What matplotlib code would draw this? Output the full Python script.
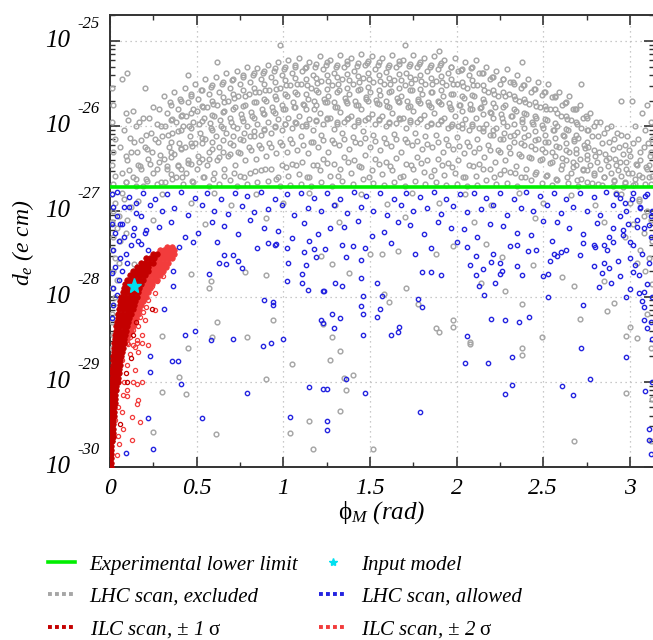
import numpy as np
import matplotlib.pyplot as plt
from matplotlib.lines import Line2D
from matplotlib import transforms

plt.rcParams['font.family'] = ['Liberation Serif', 'DejaVu Serif']
plt.rcParams['mathtext.fontset'] = 'custom'
plt.rcParams['mathtext.rm'] = 'Liberation Serif'
plt.rcParams['mathtext.it'] = 'Liberation Serif:italic'

# points are (phi_M in rad, log10 of d_e in e cm)
lhc_excluded = [
    # above the experimental limit, column by column
    (0.01, -25.55), (0.02, -25.75), (0.01, -25.95), (0.03, -26.15), (0.02, -26.3), (0.01, -26.45), (0.03, -26.58), (0.02, -26.68),
    (0.07, -25.45), (0.09, -25.85), (0.08, -26.05), (0.06, -26.25), (0.10, -26.4), (0.07, -26.55), (0.09, -26.66),
    (0.13, -25.82), (0.15, -26.0), (0.14, -26.18), (0.12, -26.3), (0.16, -26.45), (0.13, -26.6), (0.15, -26.7),
    (0.19, -25.9), (0.21, -26.1), (0.20, -26.25), (0.22, -26.38), (0.18, -26.5), (0.21, -26.62), (0.19, -26.7),
    (0.25, -25.78), (0.27, -25.98), (0.26, -26.15), (0.24, -26.3), (0.28, -26.42), (0.25, -26.55), (0.27, -26.68),
    (0.31, -25.65), (0.33, -25.85), (0.32, -26.0), (0.30, -26.12), (0.34, -26.25), (0.31, -26.38), (0.33, -26.5), (0.32, -26.65),
    (0.37, -25.6), (0.39, -25.8), (0.38, -25.95), (0.36, -26.08), (0.40, -26.2), (0.37, -26.33), (0.39, -26.47), (0.38, -26.6),
    (0.43, -25.55), (0.45, -25.72), (0.44, -25.88), (0.42, -26.0), (0.46, -26.12), (0.43, -26.25), (0.45, -26.4), (0.44, -26.55), (0.42, -26.68),
    (0.49, -25.5), (0.51, -25.68), (0.50, -25.82), (0.48, -25.95), (0.52, -26.08), (0.49, -26.2), (0.51, -26.35), (0.50, -26.5), (0.48, -26.65),
    (0.55, -25.45), (0.57, -25.62), (0.56, -25.78), (0.54, -25.9), (0.58, -26.02), (0.55, -26.15), (0.57, -26.3), (0.56, -26.45), (0.54, -26.6), (0.57, -26.7),
    (0.61, -25.42), (0.63, -25.6), (0.62, -25.75), (0.60, -25.88), (0.64, -26.0), (0.61, -26.12), (0.63, -26.25), (0.62, -26.4), (0.60, -26.55), (0.63, -26.68),
    (0.67, -25.38), (0.69, -25.55), (0.68, -25.7), (0.66, -25.82), (0.70, -25.95), (0.67, -26.08), (0.69, -26.2), (0.68, -26.35), (0.66, -26.5), (0.69, -26.63),
    (0.73, -25.35), (0.75, -25.5), (0.74, -25.65), (0.72, -25.78), (0.76, -25.9), (0.73, -26.02), (0.75, -26.15), (0.74, -26.3), (0.72, -26.45), (0.75, -26.58), (0.73, -26.7),
    (0.79, -25.3), (0.81, -25.48), (0.80, -25.62), (0.78, -25.75), (0.82, -25.88), (0.79, -26.0), (0.81, -26.12), (0.80, -26.25), (0.78, -26.4), (0.81, -26.55), (0.79, -26.68),
    (0.85, -25.32), (0.87, -25.45), (0.86, -25.6), (0.84, -25.72), (0.88, -25.85), (0.85, -25.98), (0.87, -26.1), (0.86, -26.22), (0.84, -26.38), (0.87, -26.52), (0.85, -26.66),
    (0.91, -25.28), (0.93, -25.42), (0.92, -25.58), (0.90, -25.7), (0.94, -25.82), (0.91, -25.95), (0.93, -26.08), (0.92, -26.2), (0.90, -26.35), (0.93, -26.5), (0.91, -26.64),
    (0.97, -25.25), (0.99, -25.4), (0.98, -25.55), (0.96, -25.68), (1.00, -25.8), (0.97, -25.92), (0.99, -26.05), (0.98, -26.18), (0.96, -26.32), (0.99, -26.46), (0.97, -26.6), (0.98, -26.7),
    (1.03, -25.22), (1.05, -25.38), (1.04, -25.52), (1.02, -25.65), (1.06, -25.78), (1.03, -25.9), (1.05, -26.02), (1.04, -26.15), (1.02, -26.3), (1.05, -26.44), (1.03, -26.58), (1.04, -26.69),
    (1.09, -25.2), (1.11, -25.35), (1.10, -25.5), (1.08, -25.62), (1.12, -25.75), (1.09, -25.88), (1.11, -26.0), (1.10, -26.12), (1.08, -26.28), (1.11, -26.42), (1.09, -26.56), (1.10, -26.68),
    (1.15, -25.25), (1.17, -25.4), (1.16, -25.55), (1.14, -25.68), (1.18, -25.8), (1.15, -25.92), (1.17, -26.05), (1.16, -26.18), (1.14, -26.32), (1.17, -26.46), (1.15, -26.6), (1.16, -26.7),
    (1.21, -25.18), (1.23, -25.33), (1.22, -25.47), (1.20, -25.6), (1.24, -25.72), (1.21, -25.85), (1.23, -25.97), (1.22, -26.1), (1.20, -26.25), (1.23, -26.38), (1.21, -26.52), (1.22, -26.66),
    (1.27, -25.22), (1.29, -25.37), (1.28, -25.52), (1.26, -25.64), (1.30, -25.77), (1.27, -25.9), (1.29, -26.03), (1.28, -26.16), (1.26, -26.3), (1.29, -26.44), (1.27, -26.58), (1.28, -26.7),
    (1.33, -25.16), (1.35, -25.3), (1.34, -25.45), (1.32, -25.58), (1.36, -25.7), (1.33, -25.83), (1.35, -25.95), (1.34, -26.08), (1.32, -26.22), (1.35, -26.36), (1.33, -26.5), (1.34, -26.64),
    (1.39, -25.2), (1.41, -25.35), (1.40, -25.5), (1.38, -25.62), (1.42, -25.75), (1.39, -25.88), (1.41, -26.0), (1.40, -26.13), (1.38, -26.27), (1.41, -26.4), (1.39, -26.55), (1.40, -26.68),
    (1.45, -25.15), (1.47, -25.28), (1.46, -25.43), (1.44, -25.56), (1.48, -25.68), (1.45, -25.8), (1.47, -25.93), (1.46, -26.06), (1.44, -26.2), (1.47, -26.34), (1.45, -26.48), (1.46, -26.62),
    (1.51, -25.18), (1.53, -25.33), (1.52, -25.48), (1.50, -25.6), (1.54, -25.73), (1.51, -25.86), (1.53, -25.98), (1.52, -26.1), (1.50, -26.25), (1.53, -26.38), (1.51, -26.52), (1.52, -26.67),
    (1.57, -25.2), (1.59, -25.36), (1.58, -25.5), (1.56, -25.63), (1.60, -25.76), (1.57, -25.88), (1.59, -26.0), (1.58, -26.14), (1.56, -26.28), (1.59, -26.42), (1.57, -26.56), (1.58, -26.69),
    (1.63, -25.17), (1.65, -25.31), (1.64, -25.46), (1.62, -25.59), (1.66, -25.71), (1.63, -25.84), (1.65, -25.96), (1.64, -26.09), (1.62, -26.23), (1.65, -26.37), (1.63, -26.51), (1.64, -26.65),
    (1.69, -25.22), (1.71, -25.38), (1.70, -25.52), (1.68, -25.65), (1.72, -25.78), (1.69, -25.9), (1.71, -26.02), (1.70, -26.15), (1.68, -26.3), (1.71, -26.44), (1.69, -26.58), (1.70, -26.7),
    (1.75, -25.16), (1.77, -25.3), (1.76, -25.45), (1.74, -25.58), (1.78, -25.7), (1.75, -25.82), (1.77, -25.95), (1.76, -26.08), (1.74, -26.22), (1.77, -26.36), (1.75, -26.5), (1.76, -26.64),
    (1.81, -25.2), (1.83, -25.35), (1.82, -25.5), (1.80, -25.62), (1.84, -25.75), (1.81, -25.87), (1.83, -26.0), (1.82, -26.12), (1.80, -26.27), (1.83, -26.4), (1.81, -26.54), (1.82, -26.68),
    (1.87, -25.18), (1.89, -25.33), (1.88, -25.47), (1.86, -25.6), (1.90, -25.72), (1.87, -25.85), (1.89, -25.97), (1.88, -26.1), (1.86, -26.24), (1.89, -26.38), (1.87, -26.52), (1.88, -26.66),
    (1.93, -25.22), (1.95, -25.37), (1.94, -25.52), (1.92, -25.64), (1.96, -25.77), (1.93, -25.9), (1.95, -26.02), (1.94, -26.15), (1.92, -26.3), (1.95, -26.43), (1.93, -26.57), (1.94, -26.69),
    (1.99, -25.2), (2.01, -25.35), (2.00, -25.5), (1.98, -25.62), (2.02, -25.75), (1.99, -25.88), (2.01, -26.0), (2.00, -26.13), (1.98, -26.27), (2.01, -26.4), (1.99, -26.55), (2.00, -26.68),
    (2.05, -25.25), (2.07, -25.4), (2.06, -25.55), (2.04, -25.67), (2.08, -25.8), (2.05, -25.92), (2.07, -26.05), (2.06, -26.18), (2.04, -26.32), (2.07, -26.46), (2.05, -26.6), (2.06, -26.7),
    (2.11, -25.22), (2.13, -25.38), (2.12, -25.52), (2.10, -25.65), (2.14, -25.78), (2.11, -25.9), (2.13, -26.02), (2.12, -26.15), (2.10, -26.3), (2.13, -26.44), (2.11, -26.58), (2.12, -26.69),
    (2.17, -25.3), (2.19, -25.45), (2.18, -25.6), (2.16, -25.72), (2.20, -25.85), (2.17, -25.97), (2.19, -26.1), (2.18, -26.22), (2.16, -26.36), (2.19, -26.5), (2.17, -26.63),
    (2.23, -25.35), (2.25, -25.5), (2.24, -25.65), (2.22, -25.78), (2.26, -25.9), (2.23, -26.02), (2.25, -26.15), (2.24, -26.28), (2.22, -26.42), (2.25, -26.56), (2.23, -26.68),
    (2.29, -25.33), (2.31, -25.48), (2.30, -25.62), (2.28, -25.75), (2.32, -25.88), (2.29, -26.0), (2.31, -26.12), (2.30, -26.25), (2.28, -26.4), (2.31, -26.54), (2.29, -26.67),
    (2.35, -25.4), (2.37, -25.55), (2.36, -25.7), (2.34, -25.82), (2.38, -25.95), (2.35, -26.07), (2.37, -26.2), (2.36, -26.33), (2.34, -26.47), (2.37, -26.6), (2.35, -26.7),
    (2.41, -25.45), (2.43, -25.6), (2.42, -25.74), (2.40, -25.86), (2.44, -25.98), (2.41, -26.1), (2.43, -26.23), (2.42, -26.36), (2.40, -26.5), (2.43, -26.63),
    (2.47, -25.48), (2.49, -25.63), (2.48, -25.78), (2.46, -25.9), (2.50, -26.02), (2.47, -26.15), (2.49, -26.27), (2.48, -26.4), (2.46, -26.54), (2.49, -26.67),
    (2.53, -25.5), (2.55, -25.66), (2.54, -25.8), (2.52, -25.93), (2.56, -26.05), (2.53, -26.18), (2.55, -26.3), (2.54, -26.43), (2.52, -26.57), (2.55, -26.69),
    (2.59, -25.6), (2.61, -25.75), (2.60, -25.88), (2.58, -26.0), (2.62, -26.12), (2.59, -26.25), (2.61, -26.37), (2.60, -26.5), (2.58, -26.63),
    (2.65, -25.65), (2.67, -25.8), (2.66, -25.93), (2.64, -26.05), (2.68, -26.17), (2.65, -26.3), (2.67, -26.42), (2.66, -26.55), (2.64, -26.67),
    (2.71, -25.75), (2.73, -25.9), (2.72, -26.02), (2.70, -26.14), (2.74, -26.26), (2.71, -26.38), (2.73, -26.5), (2.72, -26.62), (2.70, -26.7),
    (2.77, -25.85), (2.79, -26.0), (2.78, -26.12), (2.76, -26.24), (2.80, -26.35), (2.77, -26.46), (2.79, -26.57), (2.78, -26.67),
    (2.83, -25.95), (2.85, -26.08), (2.84, -26.2), (2.82, -26.3), (2.86, -26.4), (2.83, -26.5), (2.85, -26.6), (2.84, -26.69),
    (2.89, -26.0), (2.91, -26.15), (2.90, -26.27), (2.88, -26.37), (2.92, -26.46), (2.89, -26.55), (2.91, -26.63), (2.90, -26.7),
    (2.95, -26.1), (2.97, -26.22), (2.96, -26.33), (2.94, -26.42), (2.98, -26.5), (2.95, -26.58), (2.97, -26.65), (2.96, -26.71),
    (3.01, -25.7), (3.03, -26.0), (3.02, -26.2), (3.00, -26.35), (3.04, -26.45), (3.01, -26.55), (3.03, -26.62), (3.02, -26.69),
    (3.07, -25.85), (3.09, -26.05), (3.08, -26.25), (3.06, -26.4), (3.10, -26.5), (3.07, -26.6), (3.09, -26.68),
    (3.12, -25.95), (3.13, -26.15), (3.12, -26.3), (3.11, -26.45), (3.13, -26.58), (3.12, -26.68),
    # denser core of the cloud
    (0.35, -25.75), (0.35, -25.93), (0.35, -26.18), (0.35, -26.36), (0.35, -26.56),
    (0.41, -25.7), (0.41, -25.88), (0.41, -26.05), (0.41, -26.27), (0.41, -26.5),
    (0.47, -25.65), (0.47, -25.84), (0.47, -26.02), (0.47, -26.2), (0.47, -26.44),
    (0.53, -25.58), (0.53, -25.76), (0.53, -25.94), (0.53, -26.14), (0.53, -26.38),
    (0.59, -25.52), (0.59, -25.7), (0.59, -25.87), (0.59, -26.05), (0.59, -26.27),
    (0.65, -25.48), (0.65, -25.66), (0.65, -25.83), (0.65, -26.02), (0.65, -26.3),
    (0.71, -25.45), (0.71, -25.62), (0.71, -25.8), (0.71, -26.0), (0.71, -26.22),
    (0.77, -25.4), (0.77, -25.58), (0.77, -25.76), (0.77, -25.94), (0.77, -26.16),
    (0.83, -25.38), (0.83, -25.55), (0.83, -25.72), (0.83, -25.9), (0.83, -26.12),
    (0.89, -25.35), (0.89, -25.5), (0.89, -25.68), (0.89, -25.86), (0.89, -26.05),
    (0.95, -25.32), (0.95, -25.48), (0.95, -25.65), (0.95, -25.84), (0.95, -26.0),
    (1.01, -25.3), (1.01, -25.46), (1.01, -25.62), (1.01, -25.8), (1.01, -25.98),
    (1.07, -25.28), (1.07, -25.44), (1.07, -25.6), (1.07, -25.77), (1.07, -25.95),
    (1.13, -25.3), (1.13, -25.45), (1.13, -25.62), (1.13, -25.8), (1.13, -26.0),
    (1.19, -25.27), (1.19, -25.43), (1.19, -25.58), (1.19, -25.75), (1.19, -25.93),
    (1.25, -25.25), (1.25, -25.4), (1.25, -25.56), (1.25, -25.72), (1.25, -25.9),
    (1.31, -25.28), (1.31, -25.42), (1.31, -25.6), (1.31, -25.78), (1.31, -25.97),
    (1.37, -25.24), (1.37, -25.39), (1.37, -25.55), (1.37, -25.73), (1.37, -25.92),
    (1.43, -25.26), (1.43, -25.41), (1.43, -25.57), (1.43, -25.75), (1.43, -25.95),
    (1.49, -25.23), (1.49, -25.38), (1.49, -25.54), (1.49, -25.71), (1.49, -25.9),
    (1.55, -25.25), (1.55, -25.4), (1.55, -25.57), (1.55, -25.74), (1.55, -25.93),
    (1.61, -25.28), (1.61, -25.43), (1.61, -25.6), (1.61, -25.77), (1.61, -25.96),
    (1.67, -25.24), (1.67, -25.39), (1.67, -25.55), (1.67, -25.72), (1.67, -25.9),
    (1.73, -25.27), (1.73, -25.42), (1.73, -25.58), (1.73, -25.76), (1.73, -25.95),
    (1.79, -25.25), (1.79, -25.4), (1.79, -25.56), (1.79, -25.73), (1.79, -25.92),
    (1.85, -25.28), (1.85, -25.44), (1.85, -25.6), (1.85, -25.78), (1.85, -25.98),
    (1.91, -25.26), (1.91, -25.41), (1.91, -25.57), (1.91, -25.74), (1.91, -25.93),
    (1.97, -25.3), (1.97, -25.45), (1.97, -25.62), (1.97, -25.8), (1.97, -26.0),
    (2.03, -25.33), (2.03, -25.48), (2.03, -25.65), (2.03, -25.82), (2.03, -26.02),
    (2.09, -25.3), (2.09, -25.46), (2.09, -25.63), (2.09, -25.8), (2.09, -26.0),
    (2.15, -25.37), (2.15, -25.52), (2.15, -25.68), (2.15, -25.86), (2.15, -26.06),
    (2.21, -25.42), (2.21, -25.57), (2.21, -25.73), (2.21, -25.9), (2.21, -26.1),
    (2.27, -25.45), (2.27, -25.6), (2.27, -25.77), (2.27, -25.95), (2.27, -26.15),
    (2.33, -25.5), (2.33, -25.65), (2.33, -25.8), (2.33, -25.98), (2.33, -26.18),
    (2.39, -25.52), (2.39, -25.68), (2.39, -25.84), (2.39, -26.02), (2.39, -26.22),
    (2.45, -25.56), (2.45, -25.72), (2.45, -25.88), (2.45, -26.06), (2.45, -26.27),
    (2.51, -25.6), (2.51, -25.76), (2.51, -25.92), (2.51, -26.1), (2.51, -26.3),
    (2.57, -25.65), (2.57, -25.8), (2.57, -25.96), (2.57, -26.14), (2.57, -26.35),
    (2.63, -25.72), (2.63, -25.88), (2.63, -26.03), (2.63, -26.2), (2.63, -26.4),
    (2.69, -25.8), (2.69, -25.95), (2.69, -26.1), (2.69, -26.27), (2.69, -26.45),
    (2.75, -25.9), (2.75, -26.04), (2.75, -26.18), (2.75, -26.34), (2.75, -26.52),
    # third pass through the cloud
    (0.105, -25.93), (0.117, -26.14), (0.095, -26.35), (0.111, -26.52), (0.091, -26.66),
    (0.165, -25.95), (0.177, -26.16), (0.155, -26.3), (0.171, -26.47), (0.151, -26.62),
    (0.225, -25.9), (0.237, -26.08), (0.215, -26.27), (0.231, -26.44), (0.211, -26.64),
    (0.285, -25.8), (0.297, -26.0), (0.275, -26.18), (0.291, -26.34), (0.271, -26.5), (0.295, -26.66),
    (0.345, -25.72), (0.357, -25.92), (0.335, -26.1), (0.351, -26.3), (0.331, -26.47), (0.355, -26.62),
    (0.405, -25.68), (0.417, -25.87), (0.395, -26.06), (0.411, -26.26), (0.391, -26.45), (0.415, -26.6),
    (0.465, -25.62), (0.477, -25.8), (0.455, -26.0), (0.471, -26.23), (0.451, -26.43), (0.475, -26.64),
    (0.525, -25.58), (0.537, -25.77), (0.515, -25.97), (0.531, -26.2), (0.511, -26.42), (0.535, -26.6),
    (0.585, -25.54), (0.597, -25.74), (0.575, -25.96), (0.591, -26.18), (0.571, -26.38), (0.595, -26.62),
    (0.645, -25.5), (0.657, -25.72), (0.635, -25.93), (0.651, -26.16), (0.631, -26.36), (0.655, -26.58),
    (0.705, -25.46), (0.717, -25.67), (0.695, -25.9), (0.711, -26.12), (0.691, -26.33), (0.715, -26.55),
    (0.765, -25.42), (0.777, -25.64), (0.755, -25.86), (0.771, -26.08), (0.751, -26.32), (0.775, -26.6),
    (0.825, -25.4), (0.837, -25.6), (0.815, -25.83), (0.831, -26.06), (0.811, -26.28), (0.835, -26.53),
    (0.885, -25.37), (0.897, -25.58), (0.875, -25.8), (0.891, -26.03), (0.871, -26.26), (0.895, -26.5),
    (0.945, -25.35), (0.957, -25.56), (0.935, -25.78), (0.951, -26.01), (0.931, -26.25), (0.955, -26.62),
    (1.005, -25.33), (1.017, -25.52), (0.995, -25.75), (1.011, -25.98), (0.991, -26.22), (1.015, -26.48),
    (1.065, -25.3), (1.077, -25.5), (1.055, -25.72), (1.071, -25.96), (1.051, -26.2), (1.075, -26.45),
    (1.125, -25.32), (1.137, -25.52), (1.115, -25.74), (1.131, -25.97), (1.111, -26.22), (1.135, -26.6),
    (1.185, -25.3), (1.197, -25.49), (1.175, -25.7), (1.191, -25.94), (1.171, -26.18), (1.195, -26.45),
    (1.245, -25.28), (1.257, -25.47), (1.235, -25.68), (1.251, -25.92), (1.231, -26.16), (1.255, -26.43),
    (1.305, -25.3), (1.317, -25.5), (1.295, -25.72), (1.311, -25.95), (1.291, -26.2), (1.315, -26.58),
    (1.365, -25.27), (1.377, -25.46), (1.355, -25.67), (1.371, -25.9), (1.351, -26.15), (1.375, -26.42),
    (1.425, -25.29), (1.437, -25.48), (1.415, -25.7), (1.431, -25.93), (1.411, -26.18), (1.435, -26.47),
    (1.485, -25.26), (1.497, -25.45), (1.475, -25.66), (1.491, -25.9), (1.471, -26.14), (1.495, -26.6),
    (1.545, -25.28), (1.557, -25.47), (1.535, -25.69), (1.551, -25.92), (1.531, -26.17), (1.555, -26.44),
    (1.605, -25.3), (1.617, -25.5), (1.595, -25.71), (1.611, -25.95), (1.591, -26.2), (1.615, -26.47),
    (1.665, -25.27), (1.677, -25.46), (1.655, -25.67), (1.671, -25.91), (1.651, -26.15), (1.675, -26.6),
    (1.725, -25.29), (1.737, -25.49), (1.715, -25.7), (1.731, -25.93), (1.711, -26.18), (1.735, -26.45),
    (1.785, -25.27), (1.797, -25.47), (1.775, -25.68), (1.791, -25.92), (1.771, -26.17), (1.795, -26.43),
    (1.845, -25.3), (1.857, -25.5), (1.835, -25.72), (1.851, -25.96), (1.831, -26.21), (1.855, -26.59),
    (1.905, -25.28), (1.917, -25.48), (1.895, -25.7), (1.911, -25.94), (1.891, -26.19), (1.915, -26.46),
    (1.965, -25.31), (1.977, -25.51), (1.955, -25.73), (1.971, -25.97), (1.951, -26.22), (1.975, -26.48),
    (2.025, -25.34), (2.037, -25.53), (2.015, -25.75), (2.031, -25.98), (2.011, -26.23), (2.035, -26.6),
    (2.085, -25.32), (2.097, -25.52), (2.075, -25.74), (2.091, -25.98), (2.071, -26.23), (2.095, -26.47),
    (2.145, -25.38), (2.157, -25.58), (2.135, -25.79), (2.151, -26.02), (2.131, -26.26), (2.155, -26.5),
    (2.205, -25.42), (2.217, -25.62), (2.195, -25.83), (2.211, -26.05), (2.191, -26.28), (2.215, -26.6),
    (2.265, -25.45), (2.277, -25.65), (2.255, -25.86), (2.271, -26.08), (2.251, -26.3), (2.275, -26.52),
    (2.325, -25.48), (2.337, -25.68), (2.315, -25.88), (2.331, -26.1), (2.311, -26.32), (2.335, -26.55),
    (2.385, -25.52), (2.397, -25.72), (2.375, -25.92), (2.391, -26.13), (2.371, -26.35), (2.395, -26.6),
    (2.445, -25.56), (2.457, -25.76), (2.435, -25.95), (2.451, -26.16), (2.431, -26.37), (2.455, -26.56),
    (2.505, -25.6), (2.517, -25.8), (2.495, -25.99), (2.511, -26.19), (2.491, -26.39), (2.515, -26.58),
    (2.565, -25.66), (2.577, -25.85), (2.555, -26.04), (2.571, -26.23), (2.551, -26.42), (2.575, -26.62),
    (2.625, -25.73), (2.637, -25.92), (2.615, -26.1), (2.631, -26.28), (2.611, -26.45), (2.635, -26.6),
    (2.685, -25.8), (2.697, -25.98), (2.675, -26.15), (2.691, -26.32), (2.671, -26.48), (2.695, -26.63),
    (2.745, -25.88), (2.757, -26.05), (2.735, -26.22), (2.751, -26.38), (2.731, -26.52), (2.755, -26.66),
    (2.805, -25.95), (2.817, -26.12), (2.795, -26.28), (2.811, -26.42), (2.791, -26.55), (2.815, -26.68),
    (2.865, -26.02), (2.877, -26.18), (2.855, -26.33), (2.871, -26.47), (2.851, -26.6),
    (2.925, -26.08), (2.937, -26.24), (2.915, -26.38), (2.931, -26.52), (2.911, -26.64),
    (2.985, -26.12), (2.997, -26.28), (2.975, -26.42), (2.991, -26.55), (2.971, -26.67),
    (3.045, -26.15), (3.057, -26.3), (3.035, -26.44), (3.051, -26.57), (3.031, -26.68),
    (3.105, -26.2), (3.117, -26.35), (3.095, -26.48), (3.111, -26.6),
    # outliers on top of the cloud
    (0.10, -25.38), (0.20, -25.55), (0.45, -25.4), (0.62, -25.25), (0.98, -25.05), (1.70, -25.05),
    (1.90, -25.12), (2.38, -25.25), (2.72, -25.5), (2.95, -25.7), (3.10, -25.75),
    # below the experimental limit
    (0.07, -26.78), (0.16, -26.88), (0.30, -26.8), (0.47, -26.9), (0.60, -26.78), (0.70, -26.92),
    (0.84, -26.8), (1.00, -26.9), (1.15, -26.79), (1.30, -26.93), (1.45, -26.8), (1.60, -26.91),
    (1.74, -26.78), (1.90, -26.9), (2.05, -26.8), (2.20, -26.92), (2.36, -26.78), (2.50, -26.9),
    (2.66, -26.81), (2.80, -26.93), (2.92, -26.78), (3.05, -26.88), (0.25, -27.1), (0.55, -27.15),
    (0.90, -27.08), (1.32, -27.12), (1.70, -27.07), (2.10, -27.13), (2.45, -27.08), (2.85, -27.12),
    (3.08, -27.05),
    (0.01, -26.8), (0.03, -26.9), (0.02, -27.0), (0.05, -27.05), (0.01, -27.12), (0.04, -27.2),
    (0.02, -27.3), (0.06, -27.35), (0.01, -27.45), (0.03, -27.55), (0.05, -27.6), (0.02, -27.7),
    (0.04, -27.8), (0.01, -27.9), (0.03, -28.0), (0.02, -28.1), (0.01, -28.2), (0.08, -26.85),
    (0.10, -27.1), (0.12, -26.95), (0.09, -27.25), (0.01, -28.3), (0.02, -28.45), (0.01, -28.6),
    (0.14, -27.62), (0.47, -27.73), (0.58, -27.82), (0.57, -27.9), (0.78, -27.71), (0.90, -27.75),
    (0.62, -28.3), (0.59, -28.47), (0.79, -28.47), (0.45, -28.6), (0.30, -28.46), (0.40, -28.94),
    (0.44, -29.14), (0.30, -29.12), (0.25, -29.59), (0.61, -29.61), (0.90, -28.97), (1.05, -28.79),
    (1.04, -29.6), (1.15, -29.46), (1.17, -29.79), (0.94, -28.28), (1.50, -27.5), (1.57, -27.5),
    (1.66, -27.46), (1.88, -27.5), (1.98, -27.41), (2.17, -27.38), (2.26, -27.54), (2.44, -27.63),
    (2.61, -27.77), (2.14, -27.84), (2.28, -27.94), (2.38, -28.09), (1.38, -27.72), (1.28, -27.62),
    (1.22, -27.52), (1.58, -27.97), (1.61, -28.06), (1.71, -27.9), (1.78, -28.09), (1.28, -28.48),
    (1.23, -28.32), (1.33, -28.64), (1.27, -28.75), (1.35, -28.95), (1.36, -29.1), (1.40, -28.92),
    (1.33, -29.34), (1.52, -29.79), (1.88, -28.37), (1.90, -28.42), (1.98, -28.28), (1.98, -28.36),
    (2.08, -28.53), (2.08, -28.56), (2.38, -28.6), (2.38, -28.69), (2.49, -28.47), (2.71, -28.26),
    (2.87, -28.17), (2.91, -28.07), (2.98, -28.46), (3.04, -28.49), (3.00, -28.36), (2.98, -29.13),
    (2.68, -29.7), (2.68, -27.88), (2.85, -27.82),
    (2.95, -26.8), (3.00, -26.9), (3.05, -26.85), (3.10, -27.0), (3.12, -27.1), (3.02, -27.15),
    (3.08, -27.25), (3.13, -27.35), (2.97, -27.3), (3.06, -27.45), (3.11, -27.55), (3.04, -27.6),
    (3.09, -27.7), (3.13, -27.85), (3.10, -28.2), (3.12, -28.6), (3.13, -29.2), (3.12, -29.7),
]

lhc_allowed = [
    (0.04, -26.77), (0.11, -26.83), (0.19, -26.79), (0.26, -26.86), (0.33, -26.80), (0.41, -26.77), (0.49, -26.84),
    (0.56, -26.79), (0.64, -26.86), (0.72, -26.78), (0.79, -26.82), (0.87, -26.77), (0.95, -26.85), (1.02, -26.80),
    (1.10, -26.78), (1.18, -26.84), (1.25, -26.79), (1.33, -26.86), (1.41, -26.77), (1.48, -26.82), (1.56, -26.79),
    (1.64, -26.85), (1.71, -26.78), (1.79, -26.83), (1.87, -26.77), (1.94, -26.86), (2.02, -26.80), (2.10, -26.78),
    (2.17, -26.84), (2.25, -26.79), (2.33, -26.85), (2.40, -26.77), (2.48, -26.82), (2.56, -26.79), (2.63, -26.86),
    (2.71, -26.78), (2.79, -26.83), (2.86, -26.77), (2.94, -26.84), (3.02, -26.79), (3.09, -26.82),
    (0.08, -26.95), (0.15, -27.02), (0.23, -26.93), (0.30, -27.00), (0.37, -26.96), (0.45, -27.04), (0.53, -26.92),
    (0.60, -26.99), (0.68, -27.03), (0.76, -26.94), (0.83, -27.01), (0.91, -26.97), (0.99, -26.92), (1.06, -27.04),
    (1.14, -26.96), (1.22, -27.00), (1.29, -26.93), (1.37, -27.02), (1.45, -26.95), (1.52, -26.99), (1.60, -27.04),
    (1.68, -26.93), (1.75, -27.00), (1.83, -26.96), (1.91, -27.03), (1.98, -26.94), (2.06, -27.01), (2.14, -26.97),
    (2.21, -26.92), (2.29, -27.04), (2.37, -26.96), (2.44, -27.00), (2.52, -26.93), (2.60, -27.02), (2.67, -26.95),
    (2.75, -26.99), (2.83, -27.04), (2.90, -26.93), (2.98, -27.00), (3.06, -26.96), (3.12, -27.05),
    (0.06, -27.15), (0.21, -27.22), (0.35, -27.12), (0.51, -27.25), (0.66, -27.17), (0.81, -27.10), (0.97, -27.23),
    (1.12, -27.14), (1.27, -27.20), (1.43, -27.11), (1.58, -27.24), (1.73, -27.16), (1.89, -27.12), (2.04, -27.21),
    (2.19, -27.15), (2.35, -27.25), (2.50, -27.11), (2.65, -27.19), (2.81, -27.14), (2.96, -27.22), (3.11, -27.16),
    (0.13, -27.28), (0.28, -27.18), (0.43, -27.30), (0.59, -27.13), (0.74, -27.27), (0.89, -27.19), (1.05, -27.31),
    (1.20, -27.26), (1.35, -27.18), (1.51, -27.29), (1.66, -27.13), (1.81, -27.27), (1.97, -27.19), (2.12, -27.30),
    (2.27, -27.17), (2.43, -27.28), (2.58, -27.13), (2.73, -27.26), (2.88, -27.30), (3.04, -27.18),
    (0.18, -27.38), (0.40, -27.42), (0.62, -27.36), (0.95, -27.40), (1.15, -27.35), (1.40, -27.41), (1.62, -27.37),
    (1.85, -27.43), (2.00, -27.36), (2.35, -27.40), (2.55, -27.35), (2.80, -27.42), (3.00, -27.36),
    # left edge
    (0.01, -26.8), (0.02, -26.95), (0.04, -27.05), (0.01, -27.15), (0.03, -27.25), (0.05, -27.35), (0.02, -27.45),
    (0.06, -27.55), (0.03, -27.65), (0.01, -27.72), (0.05, -27.8), (0.02, -27.9), (0.04, -27.98), (0.07, -27.7),
    (0.09, -27.5), (0.08, -27.3), (0.10, -27.6), (0.12, -27.4), (0.07, -27.15), (0.11, -26.95), (0.14, -27.2),
    (0.16, -27.35), (0.18, -27.05), (0.15, -26.9), (0.20, -27.25), (0.22, -27.45), (0.02, -28.1), (0.01, -28.25),
    # lower scatter
    (0.57, -27.73), (0.365, -27.88), (0.31, -28.14), (0.49, -28.40), (0.43, -28.45), (0.58, -28.51), (0.71, -28.50),
    (1.00, -28.50), (0.93, -28.55), (0.88, -28.58), (0.89, -28.04), (0.94, -28.06), (0.94, -28.10), (1.02, -27.82),
    (1.11, -27.84), (1.14, -27.92), (1.11, -27.73), (1.13, -27.63), (1.22, -28.28), (1.23, -27.94), (0.36, -28.76),
    (0.39, -28.76), (0.23, -28.70), (0.23, -28.88), (0.41, -29.02), (0.79, -29.13), (1.04, -29.41), (0.22, -29.43),
    (0.53, -29.43), (0.25, -29.79), (0.09, -29.83), (1.15, -29.06), (1.23, -29.08), (0.365, -27.70), (0.66, -27.51),
    (0.71, -27.51), (0.74, -27.58), (0.67, -27.62), (0.76, -27.66), (0.63, -27.61), (0.85, -27.43), (0.91, -27.37),
    (0.96, -27.38), (1.02, -27.43), (1.03, -27.60), (1.12, -27.48), (1.19, -27.53), (1.24, -27.44), (1.18, -27.44),
    (0.48, -27.36),
    (1.34, -27.39), (1.36, -27.54), (1.45, -27.57), (1.47, -27.43), (1.30, -27.84), (1.34, -27.88), (1.235, -27.94),
    (1.45, -27.78), (1.46, -27.99), (1.45, -28.11), (1.46, -28.20), (1.28, -28.20), (1.33, -28.25), (1.29, -28.37),
    (1.46, -28.45), (1.23, -28.31), (1.54, -27.84), (1.57, -27.99), (1.56, -28.15), (1.54, -28.24), (1.62, -28.45),
    (1.66, -28.41), (1.67, -28.36), (1.76, -27.50), (1.80, -27.71), (1.85, -27.71), (1.91, -27.75), (1.78, -28.03),
    (1.80, -28.12), (1.25, -29.08), (1.36, -28.97), (1.47, -29.13), (1.25, -29.46), (1.25, -29.57), (1.79, -29.35),
    (2.06, -27.42), (2.11, -27.52), (2.08, -27.63), (2.15, -27.68), (2.21, -27.50), (2.20, -27.59), (2.25, -27.61),
    (2.26, -27.70), (2.25, -27.74), (2.22, -27.84), (2.13, -27.88), (2.11, -27.75), (2.16, -27.98), (2.31, -27.41),
    (2.38, -27.75), (2.35, -27.64), (2.41, -27.47), (2.46, -27.45), (2.20, -28.26), (2.28, -28.27), (2.36, -28.30),
    (2.42, -28.24), (2.06, -28.46), (2.05, -28.78), (2.18, -28.78), (2.32, -28.71), (2.32, -29.04), (2.28, -29.14),
    (2.54, -27.58), (2.50, -27.76), (2.53, -27.73), (2.53, -28.00), (2.56, -27.50), (2.58, -27.52), (2.60, -27.48),
    (2.63, -27.45), (2.73, -27.37), (2.71, -27.51), (2.73, -28.10), (2.72, -28.60), (2.61, -29.05), (2.67, -29.16),
    (2.77, -28.97), (2.79, -27.64), (2.84, -27.72), (2.82, -27.89), (2.85, -27.60), (2.88, -27.67), (2.89, -27.84),
    (2.94, -27.76), (2.79, -27.39), (2.85, -27.40), (2.90, -27.36), (2.93, -27.58), (3.02, -27.71), (3.03, -27.63),
    (2.98, -28.00), (3.00, -27.91), (3.05, -27.96), (3.07, -28.05), (3.08, -28.12), (3.08, -28.27), (3.10, -28.37),
    (2.98, -28.71), (3.09, -29.11), (3.11, -29.55), (3.11, -29.68), (3.12, -29.85), (3.13, -29.00),
    # right edge
    (2.92, -26.8), (2.97, -26.9), (3.01, -26.85), (3.06, -26.95), (3.10, -26.8), (3.13, -27.0), (2.94, -27.05),
    (2.99, -27.15), (3.04, -27.1), (3.08, -27.2), (3.12, -27.3), (2.96, -27.28), (3.02, -27.4), (3.07, -27.5),
    (3.11, -27.6), (3.00, -27.55), (3.05, -27.75), (3.10, -27.85), (3.13, -28.0), (3.08, -27.95), (3.12, -28.3),
    (3.13, -28.5), (2.90, -27.2), (2.87, -27.45),
]

# dense part of the ILC bands
ilc_2sigma = [
    (0.33, -27.42), (0.355, -27.42),
    (0.29, -27.45), (0.31, -27.45), (0.33, -27.45), (0.35, -27.45), (0.37, -27.45),
    (0.29, -27.50), (0.31, -27.50), (0.33, -27.50), (0.35, -27.50), (0.37, -27.50),
    (0.275, -27.55), (0.297, -27.55), (0.319, -27.55), (0.341, -27.55), (0.36, -27.55),
    (0.268, -27.60), (0.29, -27.60), (0.312, -27.60), (0.334, -27.60),
    (0.243, -27.65), (0.265, -27.65), (0.287, -27.65), (0.309, -27.65), (0.325, -27.65),
    (0.244, -27.70), (0.266, -27.70), (0.288, -27.70), (0.305, -27.70),
    (0.225, -27.75), (0.247, -27.75), (0.269, -27.75), (0.288, -27.75),
    (0.21, -27.80), (0.232, -27.80), (0.254, -27.80), (0.27, -27.80),
    (0.198, -27.85), (0.22, -27.85), (0.245, -27.85),
    (0.19, -27.90), (0.212, -27.90), (0.232, -27.90),
    (0.183, -27.95), (0.205, -27.95), (0.22, -27.95),
    (0.176, -28.00), (0.198, -28.00), (0.21, -28.00),
    (0.167, -28.05), (0.19, -28.05), (0.158, -28.10), (0.178, -28.10),
    (0.15, -28.15), (0.17, -28.15), (0.144, -28.20), (0.16, -28.20),
    (0.13, -28.25), (0.15, -28.25), (0.124, -28.30), (0.14, -28.30),
    (0.118, -28.35), (0.13, -28.35), (0.112, -28.40), (0.122, -28.40),
    (0.105, -28.45), (0.10, -28.50),
]
ilc_2sigma_outliers = [
    (0.289, -27.69), (0.308, -27.76), (0.27, -27.82), (0.24, -27.88), (0.26, -27.96), (0.22, -28.04),
    (0.21, -28.12), (0.26, -28.16), (0.19, -28.18), (0.173, -28.24), (0.20, -28.27), (0.163, -28.35),
    (0.134, -28.39), (0.183, -28.45), (0.154, -28.51), (0.115, -28.47), (0.096, -28.55), (0.183, -28.55),
    (0.144, -28.59), (0.22, -28.57), (0.087, -28.55), (0.106, -28.56), (0.134, -28.57), (0.154, -28.54),
    (0.163, -28.65), (0.115, -28.67), (0.096, -28.80), (0.144, -28.86), (0.183, -29.0), (0.154, -29.02),
    (0.134, -29.0), (0.096, -29.10), (0.077, -29.15), (0.096, -29.17), (0.163, -29.21), (0.154, -29.26),
    (0.048, -29.29), (0.067, -29.35), (0.125, -29.41), (0.173, -29.47), (0.077, -29.55), (0.048, -29.64),
    (0.125, -29.68), (0.052, -29.73), (0.039, -29.86), (0.029, -29.45), (0.07, -28.75), (0.08, -29.0),
]

ilc_1sigma = [
    (0.25, -27.50), (0.27, -27.50),
    (0.21, -27.55), (0.232, -27.55), (0.254, -27.55),
    (0.18, -27.60), (0.202, -27.60), (0.224, -27.60), (0.246, -27.60),
    (0.155, -27.65), (0.177, -27.65), (0.199, -27.65), (0.221, -27.65),
    (0.135, -27.70), (0.157, -27.70), (0.179, -27.70), (0.201, -27.70), (0.222, -27.70),
    (0.115, -27.75), (0.137, -27.75), (0.159, -27.75), (0.181, -27.75), (0.203, -27.75),
    (0.10, -27.80), (0.122, -27.80), (0.144, -27.80), (0.166, -27.80), (0.188, -27.80),
    (0.088, -27.85), (0.11, -27.85), (0.132, -27.85), (0.154, -27.85), (0.176, -27.85),
    (0.08, -27.90), (0.102, -27.90), (0.124, -27.90), (0.146, -27.90), (0.168, -27.90),
    (0.073, -27.95), (0.095, -27.95), (0.117, -27.95), (0.139, -27.95), (0.161, -27.95),
    (0.066, -28.00), (0.088, -28.00), (0.11, -28.00), (0.132, -28.00), (0.154, -28.00),
    (0.06, -28.05), (0.082, -28.05), (0.104, -28.05), (0.126, -28.05), (0.145, -28.05),
    (0.056, -28.10), (0.078, -28.10), (0.10, -28.10), (0.12, -28.10), (0.138, -28.10),
    (0.052, -28.15), (0.074, -28.15), (0.096, -28.15), (0.116, -28.15), (0.13, -28.15),
    (0.048, -28.20), (0.07, -28.20), (0.092, -28.20), (0.112, -28.20), (0.124, -28.20),
    (0.044, -28.25), (0.066, -28.25), (0.088, -28.25), (0.108, -28.25),
    (0.04, -28.30), (0.062, -28.30), (0.084, -28.30), (0.104, -28.30),
    (0.036, -28.35), (0.058, -28.35), (0.08, -28.35), (0.098, -28.35),
    (0.033, -28.40), (0.054, -28.40), (0.075, -28.40), (0.093, -28.40),
    (0.03, -28.45), (0.05, -28.45), (0.07, -28.45), (0.088, -28.45),
    (0.027, -28.50), (0.047, -28.50), (0.066, -28.50), (0.083, -28.50),
    (0.025, -28.55), (0.044, -28.55), (0.062, -28.55), (0.078, -28.55),
    (0.023, -28.60), (0.041, -28.60), (0.059, -28.60), (0.074, -28.60),
    (0.021, -28.65), (0.038, -28.65), (0.055, -28.65), (0.069, -28.65),
    (0.019, -28.70), (0.036, -28.70), (0.052, -28.70), (0.064, -28.70),
    (0.017, -28.75), (0.033, -28.75), (0.048, -28.75), (0.06, -28.75),
    (0.015, -28.80), (0.031, -28.80), (0.045, -28.80), (0.056, -28.80),
    (0.014, -28.85), (0.029, -28.85), (0.043, -28.85), (0.053, -28.85),
    (0.013, -28.90), (0.027, -28.90), (0.04, -28.90), (0.05, -28.90),
    (0.012, -28.95), (0.025, -28.95), (0.038, -28.95), (0.047, -28.95),
    (0.011, -29.00), (0.024, -29.00), (0.036, -29.00), (0.044, -29.00),
    (0.01, -29.05), (0.022, -29.05), (0.034, -29.05),
    (0.009, -29.10), (0.021, -29.10), (0.032, -29.10),
    (0.008, -29.15), (0.02, -29.15), (0.03, -29.15),
    (0.007, -29.20), (0.018, -29.20), (0.028, -29.20),
    (0.006, -29.25), (0.017, -29.25), (0.026, -29.25),
    (0.006, -29.30), (0.016, -29.30), (0.025, -29.30),
    (0.005, -29.35), (0.015, -29.35), (0.023, -29.35),
    (0.005, -29.40), (0.014, -29.40), (0.022, -29.40),
    (0.004, -29.45), (0.013, -29.45), (0.02, -29.45),
    (0.004, -29.50), (0.012, -29.50), (0.019, -29.50),
    (0.003, -29.55), (0.011, -29.55), (0.017, -29.55),
    (0.003, -29.60), (0.01, -29.60), (0.016, -29.60),
    (0.003, -29.65), (0.009, -29.65), (0.015, -29.65),
    (0.002, -29.70), (0.008, -29.70), (0.013, -29.70),
    (0.002, -29.75), (0.008, -29.75), (0.002, -29.80), (0.007, -29.80),
    (0.001, -29.85), (0.006, -29.85), (0.001, -29.90), (0.005, -29.90),
    (0.001, -29.95), (0.004, -29.95), (0.001, -30.00), (0.003, -30.00),
]
ilc_1sigma_outliers = [
    (0.24, -28.14), (0.13, -28.45), (0.10, -29.0), (0.12, -28.72), (0.06, -29.5), (0.09, -28.9), (0.15, -28.3),
]

exp_lower_limit = 1.95e-27
input_model = (0.14, 1.32e-28)

y_decades = [-30, -29, -28, -27, -26, -25]
x_ticks = [0, 0.5, 1, 1.5, 2, 2.5, 3]
x_ticklabels = ['0', '0.5', '1', '1.5', '2', '2.5', '3']

grey = '#a6a6a6'
blue = '#2424e0'
dark_red = '#c40000'
light_red = '#f23c3c'
green = '#00ee00'
cyan = '#00e0f0'

fig = plt.figure(figsize=(6.53, 6.4), dpi=100)
ax = fig.add_axes([110 / 653, 1 - 467 / 640, np.pi * 173.3 / 653, 452 / 640])


def draw(points, color, ms, mew, filled=False):
    arr = np.array(points)
    ax.plot(arr[:, 0], 10.0 ** arr[:, 1], ls='none', marker='o', ms=ms,
            mfc=color if filled else 'none', mec=color, mew=mew, zorder=3)


draw(lhc_excluded, grey, 3.4, 1.05)
draw(lhc_allowed, blue, 3.1, 1.0)
draw(ilc_2sigma, light_red, 4.0, 0.5, filled=True)
draw(ilc_2sigma_outliers, light_red, 3.0, 0.9)
draw(ilc_1sigma, dark_red, 4.0, 0.5, filled=True)
draw(ilc_1sigma_outliers, dark_red, 3.0, 0.9)

ax.axhline(exp_lower_limit, color=green, lw=2.6, zorder=4)
ax.plot([input_model[0]], [input_model[1]], ls='none', marker='*', ms=11,
        color=cyan, zorder=5)

ax.set_yscale('log')
ax.set_xlim(0, np.pi)
ax.set_ylim(1e-30, 10 ** -24.695)

ax.set_xticks(x_ticks)
ax.set_xticks(np.arange(0.25, 3.2, 0.5), minor=True)
ax.set_xticklabels(x_ticklabels, fontsize=17, fontstyle='italic')
ax.set_yticks([10.0 ** e for e in y_decades])
ax.yaxis.set_minor_locator(plt.matplotlib.ticker.LogLocator(base=10, subs=np.arange(2, 10)))
ax.yaxis.set_minor_formatter(plt.NullFormatter())
ax.set_yticklabels([])

ax.tick_params(which='both', direction='in', top=True, right=True, color='#333333')
ax.tick_params(which='major', length=7, width=1.2)
ax.tick_params(which='minor', length=3.5, width=1.0)
ax.tick_params(axis='x', pad=8)
for side in ['left', 'bottom', 'top', 'right']:
    ax.spines[side].set_linewidth(1.4)
    ax.spines[side].set_color('#333333')

ax.grid(True, which='major', color='#b8b8b8', ls=(0, (1, 3)), lw=0.9)
ax.set_axisbelow(True)

# y tick labels drawn as ROOT does: "10" with a raised exponent
base_tf = transforms.offset_copy(ax.get_yaxis_transform(), fig=fig, x=-40, y=0, units='dots')
exp_tf = transforms.offset_copy(ax.get_yaxis_transform(), fig=fig, x=-33, y=17, units='dots')
for e in y_decades:
    ax.text(0, 10.0 ** e, '10', transform=base_tf, ha='right', va='center',
            fontsize=18, fontstyle='italic')
    ax.text(0, 10.0 ** e, str(e), transform=exp_tf, ha='left', va='center',
            fontsize=12, fontstyle='italic')

fig.text(382 / 653, 1 - 513 / 640, r'$\mathrm{\phi}_{M}$ (rad)', ha='center', va='center',
         fontsize=18, fontstyle='italic')
fig.text(23 / 653, 1 - 243 / 640, r'$d_{e}$ (e cm)', ha='center', va='center',
         fontsize=17, fontstyle='italic', rotation=90)

handles = [
    Line2D([], [], color=green, lw=2.6),
    Line2D([], [], color=grey, lw=2.8, ls=(0, (1, 0.8))),
    Line2D([], [], color=dark_red, lw=2.8, ls=(0, (1, 0.8))),
    Line2D([], [], color=cyan, ls='none', marker='*', ms=6),
    Line2D([], [], color=blue, lw=2.8, ls=(0, (1, 0.8))),
    Line2D([], [], color=light_red, lw=2.8, ls=(0, (1, 0.8))),
]
labels = [
    'Experimental lower limit',
    'LHC scan, excluded',
    r'ILC scan, ± 1 $\mathrm{\sigma}$',
    'Input model',
    'LHC scan, allowed',
    r'ILC scan, ± 2 $\mathrm{\sigma}$',
]
fig.legend(handles, labels, ncol=2, loc='upper left', bbox_to_anchor=(48 / 653, 1 - 555 / 640),
           frameon=False, prop={'family': 'Liberation Serif', 'style': 'italic', 'size': 15},
           handlelength=1.3, handletextpad=0.7, columnspacing=1.0, labelspacing=0.6,
           borderpad=0.0, borderaxespad=0.0)

fig.savefig('out.png', dpi=100)
